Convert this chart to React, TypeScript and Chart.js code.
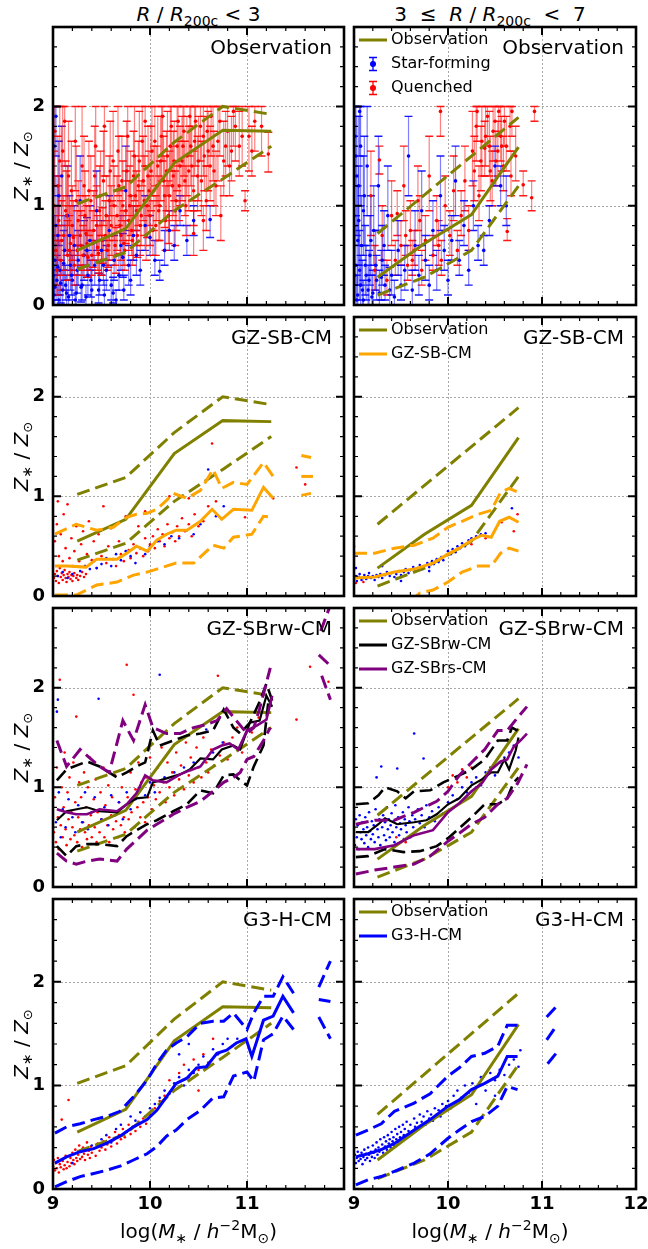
import React, { useEffect, useRef } from 'react';
import { Chart, registerables } from 'chart.js';

Chart.register(...registerables);

type P = [number, number];
type E = [number, number, number, number];

// ---------------- axes ----------------
const X_MIN = 9;
const X_MAX = 12;
const Y_MIN = 0;
const Y_MAX = 2.8;
const xMajorTicks = [9, 10, 11, 12];
const xMinorTicks = [9.2, 9.4, 9.6, 9.8, 10.2, 10.4, 10.6, 10.8, 11.2, 11.4, 11.6, 11.8];
const yMajorTicks = [0, 1, 2];
const yMinorTicks = [0.2, 0.4, 0.6, 0.8, 1.2, 1.4, 1.6, 1.8, 2.2, 2.4, 2.6];
const xGridValues = [10, 11];
const yGridValues = [1, 2];
const xTickLabelsLeft = ['9', '10', '11', ''];
const xTickLabelsRight = ['9', '10', '11', '12'];
const yTickLabels = ['0', '1', '2'];
const panelLabels = ['Observation', 'GZ-SB-CM', 'GZ-SBrw-CM', 'G3-H-CM'];

// ---------------- observation (both columns) ----------------
const obsInMed: P[] = [[9.25, 0.55], [9.75, 0.77], [10.25, 1.43], [10.75, 1.76], [11.25, 1.75]];
const obsInHi: P[] = [[9.25, 1.02], [9.75, 1.19], [10.25, 1.64], [10.75, 2.0], [11.25, 1.92]];
const obsInLo: P[] = [[9.25, 0.36], [9.75, 0.53], [10.25, 0.95], [10.75, 1.27], [11.25, 1.6]];
const obsOutMed: P[] = [[9.25, 0.28], [9.75, 0.62], [10.25, 0.91], [10.75, 1.59]];
const obsOutHi: P[] = [[9.25, 0.72], [9.75, 1.11], [10.25, 1.5], [10.75, 1.89]];
const obsOutLo: P[] = [[9.25, 0.1], [9.75, 0.28], [10.25, 0.55], [10.75, 1.2]];

// observation individual galaxies [x, y, errLow, errHigh]
const obsQuenchedIn: E[] = [
  [9.02, 1.75, 1.2, 2.0], [9.03, 0.55, 0.2, 1.0], [9.05, 1.2, 0.7, 1.7], [9.06, 0.85, 0.45, 1.3], [9.08, 0.45, 0.15, 0.8],
  [9.1, 1.55, 1.0, 2.0], [9.11, 0.7, 0.35, 1.1], [9.13, 0.95, 0.55, 1.45], [9.15, 0.5, 0.25, 0.85], [9.16, 1.3, 0.8, 1.85],
  [9.18, 0.62, 0.3, 1.0], [9.2, 0.8, 0.45, 1.2], [9.22, 0.4, 0.2, 0.7], [9.24, 1.05, 0.6, 1.6], [9.25, 0.55, 0.3, 0.95],
  [9.28, 0.7, 0.4, 1.1], [9.3, 1.4, 0.9, 2.0], [9.31, 0.5, 0.3, 0.8], [9.33, 0.9, 0.5, 1.35], [9.35, 0.62, 0.35, 1.0],
  [9.37, 1.15, 0.7, 1.65], [9.4, 0.5, 0.3, 0.75], [9.42, 0.75, 0.45, 1.15], [9.44, 1.6, 1.1, 2.0], [9.46, 0.58, 0.35, 0.9],
  [9.48, 0.95, 0.55, 1.4], [9.5, 0.45, 0.3, 0.7], [9.52, 1.25, 0.8, 1.75], [9.54, 0.7, 0.4, 1.05], [9.56, 0.55, 0.35, 0.85],
  [9.58, 1.05, 0.65, 1.5], [9.6, 0.8, 0.5, 1.2], [9.62, 1.45, 1.0, 1.95], [9.64, 0.6, 0.4, 0.9], [9.66, 0.9, 0.55, 1.3],
  [9.68, 1.2, 0.8, 1.7], [9.7, 0.7, 0.45, 1.05], [9.72, 1.0, 0.65, 1.45], [9.74, 0.55, 0.35, 0.85], [9.76, 1.35, 0.9, 1.85],
  [9.78, 0.85, 0.55, 1.25], [9.8, 1.1, 0.7, 1.55], [9.82, 0.65, 0.4, 1.0], [9.84, 1.5, 1.05, 2.0], [9.86, 0.95, 0.6, 1.35],
  [9.88, 1.2, 0.8, 1.65], [9.9, 0.8, 0.5, 1.15], [9.92, 1.65, 1.2, 2.0], [9.94, 1.05, 0.7, 1.5], [9.96, 0.7, 0.45, 1.0],
  [9.98, 1.3, 0.9, 1.8], [10.0, 0.9, 0.6, 1.3], [10.02, 1.55, 1.1, 2.0], [10.04, 1.15, 0.75, 1.6], [10.06, 0.8, 0.5, 1.1],
  [10.08, 1.4, 1.0, 1.9], [10.1, 1.0, 0.65, 1.45], [10.12, 1.7, 1.25, 2.0], [10.14, 1.25, 0.85, 1.7], [10.16, 0.85, 0.55, 1.2],
  [10.18, 1.5, 1.1, 1.95], [10.2, 1.1, 0.75, 1.55], [10.22, 1.8, 1.35, 2.0], [10.24, 1.3, 0.9, 1.75], [10.26, 0.95, 0.6, 1.35],
  [10.28, 1.6, 1.15, 2.0], [10.3, 1.2, 0.85, 1.65], [10.33, 1.45, 1.05, 1.9], [10.35, 1.75, 1.3, 2.0], [10.37, 1.0, 0.7, 1.4],
  [10.4, 1.35, 0.95, 1.8], [10.42, 1.6, 1.2, 2.0], [10.45, 1.15, 0.8, 1.55], [10.47, 1.85, 1.4, 2.0], [10.5, 1.45, 1.05, 1.9],
  [10.53, 1.25, 0.9, 1.65], [10.55, 1.7, 1.3, 2.0], [10.58, 1.05, 0.75, 1.4], [10.6, 1.55, 1.15, 1.95], [10.63, 1.9, 1.5, 2.0],
  [10.66, 1.35, 1.0, 1.75], [10.7, 1.65, 1.25, 2.0], [10.73, 0.9, 0.65, 1.2], [10.76, 1.45, 1.1, 1.85], [10.8, 1.75, 1.4, 2.0],
  [10.84, 1.55, 1.25, 1.9], [10.88, 1.8, 1.45, 2.0], [10.92, 1.6, 1.3, 1.95], [10.98, 1.05, 0.95, 1.15], [11.02, 1.7, 1.35, 2.0],
  [11.08, 1.85, 1.55, 2.0], [11.15, 1.8, 1.5, 2.0], [11.22, 1.52, 1.34, 1.74], [10.55, 0.85, 0.55, 1.0], [10.45, 0.72, 0.5, 0.95],
  [9.01, 1.0, 0.5, 1.55], [9.04, 0.35, 0.1, 0.65], [9.07, 1.45, 0.9, 2.0], [9.09, 0.65, 0.3, 1.05], [9.12, 1.85, 1.4, 2.0],
  [9.14, 0.9, 0.5, 1.35], [9.17, 0.55, 0.25, 0.9], [9.19, 1.15, 0.7, 1.65], [9.21, 0.68, 0.35, 1.05], [9.23, 1.65, 1.15, 2.0],
  [9.26, 0.85, 0.5, 1.25], [9.29, 0.6, 0.35, 0.95], [9.32, 1.2, 0.75, 1.7], [9.34, 0.72, 0.4, 1.1], [9.36, 0.48, 0.28, 0.75],
  [9.39, 1.05, 0.65, 1.5], [9.41, 0.62, 0.38, 0.95], [9.43, 1.3, 0.85, 1.8], [9.45, 0.8, 0.5, 1.2], [9.47, 0.52, 0.32, 0.8],
  [9.49, 1.1, 0.7, 1.55], [9.51, 0.65, 0.42, 0.98], [9.53, 1.8, 1.3, 2.0], [9.55, 0.9, 0.55, 1.3], [9.57, 0.6, 0.38, 0.9],
  [9.59, 1.35, 0.9, 1.85], [9.61, 0.7, 0.45, 1.05], [9.63, 1.0, 0.65, 1.4], [9.65, 0.5, 0.32, 0.78], [9.67, 1.55, 1.1, 2.0],
  [9.69, 0.8, 0.52, 1.15], [9.71, 1.25, 0.85, 1.7], [9.73, 0.62, 0.4, 0.95], [9.75, 0.95, 0.62, 1.35], [9.77, 1.7, 1.25, 2.0],
  [9.79, 1.0, 0.65, 1.4], [9.81, 0.75, 0.5, 1.1], [9.83, 1.3, 0.9, 1.75], [9.85, 1.1, 0.75, 1.5], [9.87, 0.7, 0.48, 1.0],
  [9.89, 1.45, 1.0, 1.95], [9.91, 0.9, 0.6, 1.25], [9.93, 1.25, 0.85, 1.7], [9.95, 1.85, 1.4, 2.0], [9.97, 1.0, 0.68, 1.4],
  [9.99, 1.15, 0.8, 1.55], [10.01, 1.35, 0.95, 1.8], [10.03, 0.75, 0.5, 1.05], [10.05, 1.65, 1.2, 2.0], [10.07, 1.2, 0.85, 1.6],
  [10.09, 0.95, 0.65, 1.3], [10.11, 1.45, 1.05, 1.9], [10.13, 1.9, 1.45, 2.0], [10.15, 1.1, 0.78, 1.5], [10.17, 1.35, 0.95, 1.75],
  [10.19, 0.9, 0.62, 1.25], [10.21, 1.6, 1.2, 2.0], [10.23, 1.2, 0.85, 1.6], [10.25, 1.45, 1.05, 1.85], [10.27, 1.05, 0.75, 1.45],
  [10.29, 1.85, 1.4, 2.0], [10.31, 1.4, 1.0, 1.8], [10.34, 1.6, 1.2, 2.0], [10.36, 1.25, 0.9, 1.65], [10.38, 1.5, 1.1, 1.9],
  [10.41, 1.9, 1.5, 2.0], [10.43, 1.4, 1.05, 1.8], [10.46, 1.65, 1.3, 2.0], [10.49, 1.3, 0.95, 1.7], [10.52, 1.8, 1.45, 2.0],
  [10.56, 1.5, 1.15, 1.9], [10.59, 1.75, 1.4, 2.0], [10.62, 1.4, 1.05, 1.8], [10.65, 1.6, 1.25, 2.0], [10.68, 1.2, 0.9, 1.55],
  [10.72, 1.85, 1.5, 2.0], [10.78, 1.6, 1.3, 1.95], [10.82, 1.4, 1.1, 1.75], [10.86, 1.95, 1.6, 2.0], [10.95, 1.7, 1.4, 2.0],
  [11.05, 1.55, 1.3, 1.8],
];
const obsStarFormingIn: E[] = [
  [9.01, 0.1, 0.0, 0.3], [9.02, 0.45, 0.1, 0.9], [9.03, 1.9, 1.5, 2.0], [9.04, 0.25, 0.05, 0.5], [9.05, 0.7, 0.3, 1.2],
  [9.06, 0.05, 0.0, 0.2], [9.07, 0.35, 0.1, 0.65], [9.09, 1.3, 0.8, 1.8], [9.1, 0.15, 0.0, 0.35], [9.12, 0.55, 0.25, 0.9],
  [9.13, 0.2, 0.05, 0.4], [9.15, 0.9, 0.5, 1.4], [9.16, 0.08, 0.0, 0.25], [9.18, 0.4, 0.15, 0.7], [9.2, 0.25, 0.05, 0.5],
  [9.22, 0.6, 0.3, 1.0], [9.24, 0.12, 0.0, 0.3], [9.26, 0.45, 0.2, 0.75], [9.28, 1.05, 0.6, 1.5], [9.3, 0.2, 0.05, 0.4],
  [9.32, 0.5, 0.25, 0.85], [9.34, 0.08, 0.0, 0.2], [9.36, 0.3, 0.1, 0.55], [9.38, 0.65, 0.35, 1.0], [9.4, 0.15, 0.0, 0.35],
  [9.43, 0.4, 0.2, 0.65], [9.45, 0.95, 0.55, 1.35], [9.48, 0.25, 0.1, 0.45], [9.5, 0.55, 0.3, 0.85], [9.53, 0.1, 0.0, 0.25],
  [9.55, 0.35, 0.15, 0.6], [9.58, 0.75, 0.45, 1.1], [9.6, 0.2, 0.05, 0.4], [9.63, 0.45, 0.25, 0.7], [9.65, 0.05, 0.0, 0.15],
  [9.68, 0.3, 0.15, 0.5], [9.7, 0.6, 0.35, 0.9], [9.73, 0.15, 0.05, 0.3], [9.75, 1.15, 0.75, 1.6], [9.78, 0.4, 0.2, 0.6],
  [9.8, 0.25, 0.1, 0.45], [9.83, 0.7, 0.45, 1.0], [9.86, 0.5, 0.3, 0.75], [9.9, 0.35, 0.2, 0.55], [9.95, 0.8, 0.55, 1.1],
  [10.0, 0.68, 0.5, 0.9], [10.05, 0.45, 0.3, 0.65], [10.1, 0.34, 0.25, 0.45], [10.15, 0.55, 0.4, 0.75], [10.2, 0.75, 0.55, 0.95],
  [10.25, 0.6, 0.45, 0.8], [10.31, 0.95, 0.8, 1.1], [10.38, 0.65, 0.5, 0.8], [10.45, 0.85, 0.7, 1.0], [10.62, 0.86, 0.68, 1.0],
  [9.0, 0.3, 0.05, 0.6], [9.01, 1.6, 1.1, 2.0], [9.02, 0.18, 0.0, 0.4], [9.03, 0.8, 0.35, 1.3], [9.05, 0.38, 0.1, 0.7],
  [9.06, 1.1, 0.6, 1.65], [9.08, 0.22, 0.02, 0.45], [9.11, 0.42, 0.15, 0.75], [9.14, 0.12, 0.0, 0.3], [9.17, 0.7, 0.35, 1.1],
  [9.19, 0.3, 0.1, 0.55], [9.23, 0.05, 0.0, 0.2], [9.25, 0.35, 0.12, 0.6], [9.29, 0.18, 0.03, 0.38], [9.35, 0.55, 0.28, 0.88],
  [9.39, 0.25, 0.08, 0.45], [9.47, 0.15, 0.02, 0.32], [9.52, 0.4, 0.2, 0.65], [9.62, 0.12, 0.02, 0.28], [9.72, 0.48, 0.28, 0.72],
];
const obsQuenchedOut: E[] = [
  [9.18, 1.1, 0.7, 1.55], [9.22, 0.35, 0.15, 0.6], [9.27, 1.46, 1.32, 1.6], [9.3, 0.7, 0.45, 1.0], [9.35, 0.25, 0.1, 0.45],
  [9.4, 0.9, 0.6, 1.25], [9.44, 0.45, 0.3, 0.65], [9.46, 0.92, 0.7, 1.15], [9.5, 0.6, 0.4, 0.85], [9.53, 1.2, 0.85, 1.6],
  [9.57, 0.4, 0.25, 0.6], [9.6, 0.75, 0.5, 1.05], [9.64, 0.55, 0.4, 0.75], [9.68, 1.05, 0.75, 1.4], [9.72, 0.35, 0.2, 0.55],
  [9.76, 0.65, 0.45, 0.9], [9.8, 1.3, 0.95, 1.7], [9.84, 0.5, 0.35, 0.7], [9.88, 0.85, 0.6, 1.1], [9.93, 0.45, 0.3, 0.65],
  [9.97, 1.0, 0.75, 1.3], [10.02, 0.7, 0.5, 0.95], [10.06, 1.15, 0.85, 1.5], [10.1, 0.55, 0.4, 0.75], [10.14, 0.9, 0.7, 1.15],
  [10.18, 1.25, 0.95, 1.6], [10.22, 0.75, 0.55, 1.0], [10.26, 1.55, 1.2, 1.95], [10.3, 1.8, 1.45, 2.0], [10.33, 1.1, 0.85, 1.4],
  [10.36, 1.65, 1.3, 2.0], [10.39, 1.58, 1.3, 1.85], [10.42, 1.9, 1.6, 2.0], [10.45, 1.35, 1.05, 1.7], [10.48, 1.75, 1.45, 2.0],
  [10.51, 1.45, 1.2, 1.75], [10.54, 1.95, 1.7, 2.0], [10.57, 1.6, 1.35, 1.9], [10.6, 1.85, 1.6, 2.0], [10.63, 0.74, 0.65, 0.87],
  [10.67, 1.3, 1.1, 1.55], [10.72, 1.5, 1.25, 1.8], [10.8, 1.21, 1.1, 1.35], [10.89, 1.08, 0.95, 1.25], [10.92, 1.95, 1.85, 2.0],
  [10.68, 1.95, 1.7, 2.0], [9.92, 1.95, 1.7, 2.0],
  [10.28, 1.35, 1.05, 1.7], [10.31, 1.95, 1.65, 2.0], [10.35, 1.45, 1.15, 1.8], [10.4, 1.7, 1.4, 2.0], [10.44, 1.6, 1.3, 1.95],
  [10.47, 1.25, 1.0, 1.55], [10.5, 1.85, 1.55, 2.0], [10.53, 1.55, 1.3, 1.85], [10.56, 1.7, 1.45, 2.0], [10.59, 1.4, 1.15, 1.7],
  [10.62, 1.6, 1.35, 1.9], [10.66, 1.8, 1.55, 2.0], [9.55, 0.7, 0.5, 0.95], [9.62, 0.45, 0.3, 0.65], [9.7, 0.85, 0.6, 1.1],
  [9.9, 0.6, 0.4, 0.85],
];
const obsStarFormingOut: E[] = [
  [9.01, 1.7, 1.2, 2.0], [9.02, 0.4, 0.05, 0.9], [9.03, 1.3, 0.7, 1.9], [9.04, 0.1, 0.0, 0.4], [9.05, 0.85, 0.4, 1.4],
  [9.06, 1.95, 1.5, 2.0], [9.07, 0.2, 0.0, 0.5], [9.08, 0.6, 0.2, 1.1], [9.1, 0.05, 0.0, 0.25], [9.11, 1.1, 0.6, 1.7],
  [9.13, 0.3, 0.05, 0.6], [9.15, 0.15, 0.0, 0.4], [9.17, 0.5, 0.2, 0.9], [9.19, 0.08, 0.0, 0.3], [9.21, 0.75, 0.4, 1.2],
  [9.24, 0.25, 0.05, 0.5], [9.27, 0.12, 0.0, 0.35], [9.3, 0.45, 0.2, 0.8], [9.33, 0.2, 0.05, 0.4], [9.36, 0.9, 0.55, 1.4],
  [9.4, 0.3, 0.1, 0.55], [9.43, 0.08, 0.0, 0.25], [9.47, 0.55, 0.3, 0.85], [9.5, 0.2, 0.05, 0.4], [9.54, 0.35, 0.15, 0.6],
  [9.58, 1.5, 1.1, 1.9], [9.62, 0.15, 0.0, 0.35], [9.65, 0.6, 0.35, 0.95], [9.69, 0.3, 0.1, 0.5], [9.72, 0.95, 0.6, 1.35],
  [9.76, 0.45, 0.25, 0.7], [9.8, 0.2, 0.05, 0.4], [9.84, 0.75, 0.5, 1.05], [9.88, 0.35, 0.15, 0.55], [9.92, 1.1, 0.75, 1.5],
  [9.96, 0.55, 0.35, 0.8], [10.0, 0.25, 0.1, 0.45], [10.04, 0.65, 0.45, 0.9], [10.08, 1.25, 0.9, 1.6], [10.12, 0.45, 0.3, 0.65],
  [10.17, 0.8, 0.6, 1.05], [10.22, 0.35, 0.2, 0.55], [10.27, 1.0, 0.75, 1.25], [10.32, 0.6, 0.45, 0.8], [10.38, 0.55, 0.4, 0.7],
  [10.44, 0.85, 0.7, 1.0], [10.5, 1.4, 1.2, 1.6], [10.56, 1.2, 1.0, 1.4], [10.62, 1.0, 0.8, 1.3],
  [9.0, 0.9, 0.2, 1.7], [9.01, 0.3, 0.0, 0.8], [9.02, 1.5, 0.9, 2.0], [9.03, 0.05, 0.0, 0.3], [9.04, 0.65, 0.2, 1.2],
  [9.05, 1.2, 0.6, 1.9], [9.06, 0.35, 0.05, 0.75], [9.07, 1.6, 1.0, 2.0], [9.09, 0.15, 0.0, 0.45], [9.1, 0.95, 0.5, 1.5],
  [9.12, 0.4, 0.1, 0.8], [9.14, 1.4, 0.9, 2.0], [9.16, 0.25, 0.0, 0.55], [9.18, 0.65, 0.3, 1.1], [9.2, 0.12, 0.0, 0.35],
  [9.23, 0.4, 0.15, 0.75], [9.26, 1.2, 0.75, 1.7], [9.29, 0.28, 0.05, 0.55], [9.32, 0.6, 0.3, 0.95], [9.38, 0.15, 0.0, 0.38],
];

// ---------------- GZ-SB-CM ----------------
const gzsbInMed: P[] = [[9.02, 0.3], [9.14, 0.3], [9.34, 0.29], [9.45, 0.37], [9.66, 0.37], [9.76, 0.43], [9.86, 0.5], [9.97, 0.45], [10.07, 0.56], [10.17, 0.62], [10.27, 0.66], [10.38, 0.66], [10.52, 0.75], [10.64, 0.87], [10.74, 0.77], [10.86, 0.87], [11.05, 0.86], [11.17, 1.09], [11.27, 0.98]];
const gzsbInHi: P[] = [[9.02, 0.62], [9.24, 0.72], [9.45, 0.66], [9.62, 0.69], [9.76, 0.79], [9.86, 0.82], [9.97, 0.83], [10.07, 0.87], [10.17, 0.96], [10.24, 1.03], [10.38, 0.98], [10.52, 1.06], [10.65, 1.27], [10.74, 1.08], [10.86, 1.14], [11.0, 1.12], [11.17, 1.34], [11.27, 1.2]];
const gzsbInLo: P[] = [[9.02, 0.01], [9.24, 0.01], [9.45, 0.11], [9.66, 0.14], [9.83, 0.21], [9.97, 0.24], [10.07, 0.27], [10.27, 0.33], [10.45, 0.33], [10.65, 0.51], [10.76, 0.48], [10.86, 0.59], [11.05, 0.62], [11.17, 0.8], [11.27, 0.79]];
const gzsbInTailHi: P[] = [[11.56, 1.41], [11.66, 1.39]];
const gzsbInTailMed: P[] = [[11.56, 1.2], [11.68, 1.2]];
const gzsbInTailLo: P[] = [[11.56, 1.01], [11.66, 1.03]];
const gzsbOutMed: P[] = [[9.0, 0.18], [9.22, 0.19], [9.43, 0.24], [9.64, 0.27], [9.84, 0.33], [10.0, 0.42], [10.12, 0.48], [10.25, 0.56], [10.36, 0.61], [10.46, 0.59], [10.55, 0.75], [10.65, 0.79], [10.75, 0.74]];
const gzsbOutHi: P[] = [[9.0, 0.43], [9.22, 0.43], [9.43, 0.48], [9.64, 0.51], [9.84, 0.58], [10.0, 0.69], [10.15, 0.75], [10.32, 0.82], [10.46, 0.86], [10.56, 1.04], [10.65, 1.08], [10.75, 1.04]];
const gzsbOutLo: P[] = [[9.6, -0.05], [9.7, 0.03], [9.84, 0.06], [10.0, 0.14], [10.15, 0.24], [10.32, 0.3], [10.46, 0.3], [10.56, 0.43], [10.65, 0.48], [10.75, 0.45]];
const gzsbInRed: P[] = [
  [9.01, 0.18], [9.02, 0.22], [9.03, 0.15], [9.04, 0.25], [9.05, 0.2], [9.06, 0.13], [9.07, 0.28], [9.08, 0.19], [9.09, 0.23], [9.1, 0.16],
  [9.11, 0.21], [9.12, 0.26], [9.13, 0.18], [9.14, 0.14], [9.15, 0.22], [9.16, 0.19], [9.17, 0.24], [9.18, 0.17], [9.19, 0.21], [9.2, 0.15],
  [9.21, 0.2], [9.22, 0.23], [9.24, 0.18], [9.25, 0.21], [9.26, 0.16], [9.28, 0.2], [9.3, 0.24], [9.32, 0.19], [9.34, 0.22],
  [9.02, 0.55], [9.04, 0.72], [9.05, 0.95], [9.06, 0.4], [9.08, 0.62], [9.1, 0.35], [9.11, 0.82], [9.13, 0.48], [9.15, 0.92], [9.17, 0.38],
  [9.19, 0.58], [9.2, 0.3], [9.22, 0.45], [9.24, 0.7], [9.27, 0.35], [9.29, 0.52], [9.31, 0.65], [9.33, 0.3], [9.35, 0.42], [9.37, 0.75],
  [9.4, 0.36], [9.42, 0.55], [9.45, 0.28], [9.47, 0.62], [9.5, 0.4], [9.52, 0.9], [9.55, 0.33], [9.57, 0.5], [9.6, 0.68], [9.62, 0.37],
  [9.65, 0.3], [9.68, 0.55], [9.7, 0.42], [9.73, 0.35], [9.75, 0.8], [9.78, 0.46], [9.8, 0.38], [9.83, 0.52], [9.86, 0.43], [9.88, 0.7],
  [9.9, 0.48], [9.93, 0.4], [9.95, 0.58], [9.98, 0.45], [10.0, 0.52], [10.03, 0.6], [10.05, 0.48], [10.08, 0.67], [10.1, 0.55], [10.13, 0.62],
  [10.15, 0.5], [10.18, 0.72], [10.2, 0.58], [10.23, 0.64], [10.26, 0.55], [10.28, 0.7], [10.3, 0.6], [10.33, 0.78], [10.36, 0.65], [10.4, 0.72],
  [10.43, 0.6], [10.46, 0.82], [10.5, 0.7], [10.55, 0.75], [10.6, 0.9], [10.64, 1.53], [10.68, 0.95], [10.98, 0.79], [11.27, 0.98], [11.51, 1.29],
  [11.6, 1.12], [10.4, 0.98], [9.95, 0.85], [10.2, 1.0],
];
const gzsbInBlue: P[] = [
  [9.05, 0.2], [9.1, 0.24], [9.15, 0.18], [9.2, 0.22], [9.28, 0.25], [9.33, 0.3], [9.38, 0.27], [9.42, 0.35], [9.45, 0.28], [9.5, 0.32],
  [9.55, 0.38], [9.6, 0.3], [9.65, 0.42], [9.7, 0.36], [9.75, 0.45], [9.8, 0.4], [9.85, 0.33], [9.9, 0.48], [9.95, 0.42], [10.0, 0.5],
  [10.08, 0.55], [10.15, 0.52], [10.22, 0.6], [10.3, 0.58], [10.38, 0.66], [10.45, 0.62], [10.52, 0.72], [10.6, 1.27], [10.76, 0.9], [10.68, 0.8],
];
const gzsbOutBlue: P[] = [
  [9.0, 0.17], [9.02, 0.2], [9.03, 0.15], [9.05, 0.19], [9.06, 0.22], [9.08, 0.16], [9.1, 0.18], [9.11, 0.21], [9.13, 0.17], [9.15, 0.2],
  [9.16, 0.23], [9.18, 0.18], [9.2, 0.2], [9.22, 0.16], [9.24, 0.21], [9.26, 0.19], [9.28, 0.22], [9.3, 0.18], [9.33, 0.21], [9.35, 0.24],
  [9.38, 0.2], [9.4, 0.23], [9.43, 0.19], [9.45, 0.22], [9.48, 0.25], [9.5, 0.21], [9.53, 0.24], [9.55, 0.27], [9.58, 0.23], [9.6, 0.26],
  [9.63, 0.29], [9.65, 0.25], [9.68, 0.28], [9.7, 0.31], [9.73, 0.27], [9.75, 0.3], [9.78, 0.33], [9.8, 0.29], [9.83, 0.35], [9.85, 0.32],
  [9.88, 0.37], [9.9, 0.34], [9.93, 0.39], [9.95, 0.36], [9.98, 0.41], [10.0, 0.45], [10.03, 0.42], [10.05, 0.47], [10.08, 0.44], [10.1, 0.5],
  [10.13, 0.48], [10.15, 0.53], [10.18, 0.5], [10.22, 0.56], [10.25, 0.58], [10.3, 0.6], [10.35, 0.62], [10.4, 0.63], [9.0, 0.5], [9.02, 0.28],
  [9.3, 0.3], [9.5, 0.15], [9.8, 0.25], [10.68, 0.88],
];
const gzsbOutRed: P[] = [[10.25, 0.52], [10.4, 0.58], [10.57, 0.74], [10.7, 0.65], [10.74, 0.82], [9.02, 0.13], [9.1, 0.14]];

// ---------------- GZ-SBrw-CM / GZ-SBrs-CM ----------------
const rwInMed: P[] = [[9.04, 0.67], [9.14, 0.76], [9.35, 0.8], [9.48, 0.76], [9.66, 0.75], [9.76, 0.83], [9.86, 0.89], [9.97, 0.9], [10.03, 1.05], [10.17, 1.09], [10.31, 1.13], [10.41, 1.18], [10.52, 1.29], [10.65, 1.28], [10.74, 1.38], [10.86, 1.42], [10.93, 1.38], [11.03, 1.65], [11.13, 1.67], [11.2, 1.92], [11.26, 1.81]];
const rwInHi: P[] = [[9.04, 1.07], [9.14, 1.18], [9.35, 1.26], [9.48, 1.21], [9.66, 1.1], [9.76, 1.15], [9.86, 1.21], [9.95, 1.25], [10.03, 1.57], [10.1, 1.42], [10.24, 1.47], [10.38, 1.52], [10.52, 1.54], [10.65, 1.57], [10.76, 1.78], [10.86, 1.6], [10.93, 1.54], [11.03, 1.65], [11.13, 1.86], [11.2, 2.04], [11.26, 1.87]];
const rwInLo: P[] = [[9.04, 0.41], [9.14, 0.31], [9.24, 0.41], [9.35, 0.43], [9.48, 0.43], [9.66, 0.41], [9.76, 0.51], [9.86, 0.57], [9.97, 0.63], [10.07, 0.67], [10.24, 0.76], [10.38, 0.83], [10.52, 0.97], [10.65, 0.94], [10.76, 1.12], [10.86, 1.13], [10.93, 1.07], [11.0, 1.02], [11.07, 1.21], [11.17, 1.42], [11.22, 1.86]];
const rsInMed: P[] = [[9.04, 0.78], [9.14, 0.75], [9.24, 0.73], [9.35, 0.73], [9.48, 0.78], [9.66, 0.76], [9.76, 0.83], [9.86, 0.94], [9.95, 1.12], [10.03, 1.07], [10.17, 1.05], [10.31, 1.13], [10.41, 1.17], [10.52, 1.21], [10.65, 1.38], [10.74, 1.42], [10.82, 1.44], [10.91, 1.38], [11.0, 1.57], [11.1, 1.62], [11.2, 1.68], [11.26, 1.92]];
const rsInHi: P[] = [[9.04, 1.47], [9.14, 1.21], [9.28, 1.38], [9.48, 1.21], [9.58, 1.15], [9.72, 1.67], [9.83, 1.47], [9.95, 1.83], [10.03, 1.6], [10.17, 1.54], [10.31, 1.54], [10.45, 1.6], [10.58, 1.63], [10.69, 1.67], [10.79, 1.79], [10.89, 1.67], [11.0, 1.54], [11.07, 1.6], [11.13, 1.79], [11.24, 2.2]];
const rsInLo: P[] = [[9.04, 0.34], [9.14, 0.26], [9.24, 0.23], [9.35, 0.26], [9.48, 0.28], [9.66, 0.26], [9.76, 0.38], [9.86, 0.47], [9.97, 0.57], [10.07, 0.63], [10.24, 0.73], [10.38, 0.8], [10.52, 0.86], [10.65, 0.96], [10.76, 1.05], [10.86, 1.1], [10.93, 1.15], [11.0, 1.28], [11.07, 1.31], [11.17, 1.47], [11.24, 1.6]];
const rsInTailHi: P[] = [[11.76, 2.57], [11.86, 2.83]];
const rsInTailMed: P[] = [[11.74, 2.33], [11.86, 2.22]];
const rsInTailLo: P[] = [[11.77, 2.12], [11.86, 1.88]];
const rwOutMed: P[] = [[9.02, 0.55], [9.15, 0.55], [9.26, 0.63], [9.33, 0.69], [9.46, 0.63], [9.64, 0.65], [9.77, 0.67], [9.88, 0.73], [10.0, 0.83], [10.12, 0.89], [10.25, 1.02], [10.36, 1.08], [10.46, 1.15], [10.53, 1.15], [10.6, 1.28], [10.65, 1.18], [10.72, 1.37], [10.75, 1.5]];
const rwOutHi: P[] = [[9.02, 0.83], [9.15, 0.84], [9.26, 0.92], [9.33, 1.0], [9.46, 0.96], [9.55, 0.89], [9.64, 0.96], [9.81, 0.97], [9.95, 1.05], [10.12, 1.12], [10.25, 1.18], [10.39, 1.28], [10.53, 1.47], [10.63, 1.47], [10.68, 1.6], [10.74, 1.57]];
const rwOutLo: P[] = [[9.02, 0.3], [9.15, 0.31], [9.33, 0.38], [9.53, 0.35], [9.7, 0.36], [9.88, 0.41], [10.0, 0.49], [10.12, 0.59], [10.25, 0.7], [10.39, 0.83], [10.53, 0.83], [10.63, 0.89], [10.7, 1.05], [10.75, 1.1]];
const rsOutMed: P[] = [[9.02, 0.38], [9.22, 0.38], [9.43, 0.42], [9.64, 0.52], [9.84, 0.57], [10.0, 0.75], [10.12, 0.84], [10.25, 0.96], [10.36, 1.04], [10.46, 1.18], [10.56, 1.26], [10.63, 1.28], [10.7, 1.41], [10.77, 1.47], [10.84, 1.54]];
const rsOutHi: P[] = [[9.02, 0.63], [9.22, 0.67], [9.43, 0.67], [9.64, 0.75], [9.77, 0.81], [9.88, 0.86], [10.0, 0.96], [10.12, 1.12], [10.25, 1.25], [10.39, 1.38], [10.53, 1.57], [10.63, 1.57], [10.74, 1.7], [10.84, 1.81]];
const rsOutLo: P[] = [[9.02, 0.13], [9.22, 0.17], [9.43, 0.2], [9.64, 0.23], [9.81, 0.31], [10.0, 0.46], [10.12, 0.54], [10.25, 0.63], [10.39, 0.7], [10.53, 0.83], [10.63, 0.89], [10.74, 1.04], [10.84, 1.23]];
const rwInRed: P[] = [
  [9.01, 0.55], [9.02, 0.9], [9.03, 0.45], [9.04, 1.2], [9.05, 0.7], [9.06, 0.38], [9.07, 2.08], [9.08, 0.62], [9.09, 1.0], [9.1, 0.5],
  [9.11, 0.8], [9.12, 1.35], [9.13, 0.58], [9.14, 0.42], [9.15, 0.95], [9.16, 0.68], [9.17, 1.1], [9.18, 0.48], [9.19, 0.75], [9.2, 0.6],
  [9.21, 1.25], [9.22, 0.52], [9.23, 0.85], [9.24, 1.71], [9.25, 0.45], [9.26, 0.7], [9.27, 1.05], [9.28, 0.58], [9.29, 0.9], [9.3, 0.4],
  [9.31, 0.65], [9.32, 1.15], [9.33, 0.55], [9.34, 0.8], [9.35, 0.48], [9.36, 1.0], [9.37, 0.62], [9.38, 1.3], [9.39, 0.72], [9.4, 0.5],
  [9.42, 0.88], [9.43, 0.6], [9.44, 1.08], [9.45, 0.45], [9.46, 0.75], [9.48, 0.55], [9.49, 0.95], [9.5, 0.68], [9.52, 1.2], [9.53, 0.5],
  [9.54, 0.82], [9.56, 0.62], [9.57, 1.02], [9.58, 0.45], [9.6, 0.72], [9.61, 0.9], [9.62, 0.58], [9.64, 1.12], [9.65, 0.66], [9.67, 0.5],
  [9.68, 0.85], [9.7, 0.62], [9.71, 1.0], [9.73, 0.7], [9.74, 0.55], [9.76, 2.23], [9.77, 0.9], [9.78, 0.68], [9.8, 1.15], [9.81, 0.75],
  [9.83, 1.93], [9.84, 0.6], [9.85, 0.98], [9.87, 0.8], [9.88, 1.25], [9.9, 0.7], [9.91, 1.05], [9.93, 0.85], [9.95, 0.65], [9.96, 1.1],
  [9.98, 0.9], [10.0, 1.3], [10.02, 0.78], [10.04, 1.02], [10.06, 0.88], [10.08, 1.2], [10.1, 0.95], [10.12, 1.4], [10.14, 1.05], [10.16, 0.85],
  [10.18, 1.25], [10.2, 1.0], [10.23, 1.15], [10.25, 0.92], [10.27, 1.35], [10.3, 1.08], [10.32, 1.22], [10.35, 0.98], [10.37, 1.45], [10.4, 1.12],
  [10.42, 1.3], [10.45, 1.05], [10.48, 1.4], [10.5, 1.2], [10.53, 1.1], [10.55, 1.5], [10.58, 1.25], [10.6, 1.15], [10.63, 1.38], [10.66, 1.22],
  [10.7, 2.12], [10.72, 1.32], [10.76, 1.45], [10.8, 1.28], [10.85, 1.5], [10.9, 1.6], [10.95, 1.35], [11.05, 1.55], [11.12, 1.7], [11.2, 1.75],
  [11.51, 1.68], [11.65, 2.21], [11.84, 2.06],
];
const rwInBlue: P[] = [
  [9.04, 1.76], [9.05, 1.88], [9.03, 0.65], [9.06, 0.95], [9.08, 0.5], [9.1, 0.78], [9.13, 0.6], [9.16, 0.88], [9.2, 0.7], [9.23, 0.55],
  [9.26, 0.82], [9.3, 0.65], [9.33, 0.95], [9.36, 0.58], [9.4, 0.75], [9.43, 0.9], [9.47, 1.89], [9.5, 0.68], [9.53, 0.8], [9.57, 0.62],
  [9.6, 0.92], [9.64, 0.72], [9.68, 0.85], [9.72, 0.68], [9.76, 0.95], [9.8, 0.78], [9.85, 0.88], [9.9, 1.0], [9.95, 0.92], [10.0, 1.05],
  [10.05, 0.95], [10.1, 2.13], [10.15, 1.1], [10.25, 1.15], [10.35, 1.2], [10.45, 1.25], [10.58, 1.58], [10.65, 1.35], [10.75, 1.45],
];
const rwOutBlue: P[] = [
  [9.0, 0.55], [9.01, 0.42], [9.02, 0.68], [9.03, 0.5], [9.04, 0.62], [9.05, 0.38], [9.06, 0.72], [9.07, 0.55], [9.08, 0.48], [9.09, 0.65],
  [9.1, 0.58], [9.11, 0.44], [9.12, 0.7], [9.13, 0.52], [9.14, 0.6], [9.15, 0.4], [9.16, 0.75], [9.17, 0.56], [9.18, 0.48], [9.19, 0.66],
  [9.2, 0.53], [9.21, 0.62], [9.22, 0.45], [9.23, 0.78], [9.24, 1.1], [9.25, 0.58], [9.26, 0.5], [9.27, 0.68], [9.28, 0.42], [9.29, 1.21],
  [9.3, 0.6], [9.31, 0.72], [9.32, 0.52], [9.33, 0.65], [9.34, 0.47], [9.35, 0.8], [9.36, 0.58], [9.37, 0.68], [9.38, 0.5], [9.39, 0.62],
  [9.4, 0.74], [9.41, 0.55], [9.42, 0.66], [9.43, 0.45], [9.44, 0.82], [9.45, 0.6], [9.46, 1.19], [9.47, 0.7], [9.48, 0.52], [9.49, 0.64],
  [9.5, 0.58], [9.52, 0.75], [9.53, 0.48], [9.54, 0.68], [9.55, 0.62], [9.56, 0.55], [9.58, 0.8], [9.59, 0.66], [9.6, 0.5], [9.62, 0.72],
  [9.63, 0.6], [9.64, 1.54], [9.65, 0.68], [9.66, 0.56], [9.68, 0.78], [9.7, 0.64], [9.72, 0.72], [9.74, 1.29], [9.75, 0.6], [9.77, 0.82],
  [9.8, 0.7], [9.83, 0.76], [9.86, 0.66], [9.9, 0.8], [9.95, 0.74], [10.0, 0.85], [10.05, 0.92], [10.1, 0.88], [10.15, 1.0], [10.2, 0.95],
  [10.25, 1.05], [10.3, 1.1], [10.35, 1.02], [10.4, 1.15], [10.45, 1.2], [10.5, 1.12], [10.55, 1.25], [10.6, 1.3], [10.65, 1.35], [10.7, 1.42],
  [10.75, 1.3],
];
const rwOutRed: P[] = [[9.45, 0.5], [9.55, 0.45], [10.0, 1.0], [10.05, 1.12], [10.1, 1.05], [10.15, 1.18], [10.2, 1.1], [10.25, 1.2], [10.3, 1.0], [10.38, 1.08], [10.72, 1.4]];

// ---------------- G3-H-CM ----------------
const g3InMed: P[] = [[9.02, 0.25], [9.14, 0.31], [9.28, 0.36], [9.42, 0.39], [9.55, 0.44], [9.69, 0.51], [9.83, 0.6], [9.97, 0.67], [10.07, 0.76], [10.17, 0.89], [10.27, 1.02], [10.38, 1.07], [10.48, 1.17], [10.58, 1.18], [10.69, 1.31], [10.79, 1.34], [10.89, 1.41], [10.99, 1.45], [11.05, 1.28], [11.17, 1.63], [11.27, 1.67], [11.37, 1.86], [11.48, 1.7]];
const g3InHi: P[] = [[9.02, 0.54], [9.14, 0.6], [9.28, 0.63], [9.42, 0.67], [9.55, 0.7], [9.69, 0.75], [9.83, 0.89], [9.97, 1.05], [10.07, 1.21], [10.17, 1.34], [10.27, 1.41], [10.38, 1.47], [10.52, 1.6], [10.65, 1.62], [10.76, 1.62], [10.86, 1.7], [11.0, 1.54], [11.07, 1.7], [11.17, 1.86], [11.27, 1.86], [11.37, 2.05], [11.48, 1.89]];
const g3InLo: P[] = [[9.02, 0.02], [9.14, 0.07], [9.28, 0.12], [9.42, 0.15], [9.55, 0.18], [9.69, 0.22], [9.83, 0.28], [9.97, 0.34], [10.07, 0.41], [10.17, 0.51], [10.27, 0.57], [10.38, 0.67], [10.52, 0.76], [10.65, 0.88], [10.76, 0.89], [10.86, 1.09], [11.0, 1.13], [11.07, 1.04], [11.17, 1.44], [11.27, 1.5], [11.37, 1.67], [11.48, 1.54]];
const g3InTailHi: P[] = [[11.74, 1.95], [11.86, 2.2]];
const g3InTailMed: P[] = [[11.74, 1.83], [11.86, 1.81]];
const g3InTailLo: P[] = [[11.74, 1.66], [11.86, 1.45]];
const g3OutMed: P[] = [[9.02, 0.31], [9.15, 0.34], [9.29, 0.38], [9.43, 0.44], [9.64, 0.57], [9.81, 0.67], [10.0, 0.8], [10.12, 0.86], [10.25, 0.96], [10.39, 1.02], [10.53, 1.09], [10.63, 1.28], [10.74, 1.28]];
const g3OutHi: P[] = [[9.02, 0.52], [9.15, 0.57], [9.29, 0.63], [9.43, 0.75], [9.64, 0.83], [9.81, 0.92], [10.0, 1.09], [10.12, 1.17], [10.25, 1.28], [10.39, 1.31], [10.53, 1.38], [10.63, 1.58], [10.74, 1.58]];
const g3OutLo: P[] = [[9.02, 0.04], [9.15, 0.09], [9.29, 0.12], [9.43, 0.17], [9.64, 0.25], [9.81, 0.34], [10.0, 0.49], [10.12, 0.57], [10.25, 0.65], [10.39, 0.7], [10.53, 0.8], [10.63, 0.99], [10.74, 0.96]];
const g3OutTailHi: P[] = [[11.05, 1.66], [11.15, 1.76]];
const g3OutTailMed: P[] = [[11.05, 1.44], [11.15, 1.57]];
const g3OutTailLo: P[] = [[11.06, 1.21], [11.15, 1.31]];
const g3InRed: P[] = [
  [9.0, 0.22], [9.01, 0.28], [9.02, 0.18], [9.03, 0.25], [9.04, 0.2], [9.05, 0.3], [9.06, 0.16], [9.07, 0.24], [9.08, 0.21], [9.09, 0.67],
  [9.1, 0.27], [9.11, 0.19], [9.12, 0.23], [9.13, 0.32], [9.14, 0.2], [9.15, 0.26], [9.16, 0.86], [9.17, 0.22], [9.18, 0.3], [9.19, 0.25],
  [9.2, 0.35], [9.21, 0.28], [9.22, 0.24], [9.23, 0.38], [9.24, 0.3], [9.25, 0.27], [9.26, 0.33], [9.27, 0.42], [9.28, 0.29], [9.29, 0.36],
  [9.3, 0.31], [9.31, 0.4], [9.32, 0.34], [9.33, 0.28], [9.34, 0.38], [9.35, 0.45], [9.36, 0.33], [9.37, 0.37], [9.38, 0.3], [9.39, 0.41],
  [9.4, 0.35], [9.42, 0.39], [9.44, 0.32], [9.46, 0.44], [9.48, 0.37], [9.5, 0.4], [9.52, 0.46], [9.54, 0.38], [9.56, 0.43], [9.58, 0.5],
  [9.6, 0.41], [9.62, 0.47], [9.64, 0.55], [9.66, 0.44], [9.68, 0.52], [9.7, 0.48], [9.72, 0.58], [9.74, 0.5], [9.76, 0.55], [9.78, 0.62],
  [9.8, 0.53], [9.82, 0.6], [9.85, 0.56], [9.88, 0.65], [9.9, 0.6], [9.93, 0.68], [9.96, 0.63], [10.0, 0.72], [10.05, 0.78], [10.1, 0.85],
  [10.15, 0.9], [10.2, 1.05], [10.25, 1.0], [10.3, 1.12], [10.35, 1.2], [10.4, 1.08], [10.45, 1.25], [10.5, 1.15], [10.55, 1.3], [10.6, 1.22],
  [10.65, 1.45], [10.5, 0.95],
];
const g3InBlue: P[] = [
  [9.2, 0.25], [9.3, 0.38], [9.4, 0.42], [9.5, 0.48], [9.55, 0.52], [9.6, 0.45], [9.65, 0.58], [9.7, 0.62], [9.75, 0.55], [9.8, 0.7],
  [9.85, 0.66], [9.9, 0.74], [9.95, 0.7], [10.0, 0.78], [10.05, 0.82], [10.1, 0.88], [10.15, 0.95], [10.2, 0.92], [10.25, 1.02], [10.3, 1.08],
  [10.35, 1.0], [10.4, 1.15], [10.45, 1.12], [10.5, 1.2], [10.55, 1.28], [10.6, 1.18], [10.65, 1.35], [10.7, 1.3], [10.75, 1.4], [10.8, 1.45],
  [10.85, 1.38], [10.9, 1.45], [10.4, 1.4], [10.3, 1.3],
];
const g3OutBlue: P[] = [
  [9.0, 0.28], [9.01, 0.33], [9.02, 0.25], [9.03, 0.3], [9.04, 0.36], [9.05, 0.27], [9.06, 0.32], [9.07, 0.29], [9.08, 0.35], [9.09, 0.24],
  [9.1, 0.31], [9.11, 0.38], [9.12, 0.28], [9.13, 0.34], [9.14, 0.3], [9.15, 0.4], [9.16, 0.33], [9.17, 0.27], [9.18, 0.36], [9.19, 0.31],
  [9.2, 0.42], [9.21, 0.35], [9.22, 0.3], [9.23, 0.38], [9.24, 0.45], [9.25, 0.33], [9.26, 0.4], [9.27, 0.36], [9.28, 0.48], [9.29, 0.38],
  [9.3, 0.43], [9.31, 0.35], [9.32, 0.5], [9.33, 0.41], [9.34, 0.46], [9.35, 0.38], [9.36, 0.52], [9.37, 0.44], [9.38, 0.48], [9.39, 0.4],
  [9.4, 0.55], [9.41, 0.46], [9.42, 0.5], [9.43, 0.42], [9.44, 0.58], [9.45, 0.48], [9.46, 0.53], [9.47, 0.45], [9.48, 0.6], [9.49, 0.5],
  [9.5, 0.55], [9.52, 0.62], [9.53, 0.52], [9.54, 0.58], [9.55, 0.5], [9.56, 0.65], [9.58, 0.56], [9.6, 0.62], [9.62, 0.55], [9.64, 0.68],
  [9.65, 0.6], [9.67, 0.64], [9.69, 0.58], [9.7, 0.72], [9.72, 0.65], [9.74, 0.7], [9.76, 0.62], [9.78, 0.75], [9.8, 0.68], [9.82, 0.72],
  [9.84, 0.66], [9.86, 0.78], [9.88, 0.72], [9.9, 0.76], [9.92, 0.7], [9.94, 0.82], [9.96, 0.75], [9.98, 0.8], [10.0, 0.85], [10.03, 0.78],
  [10.06, 0.9], [10.1, 0.95], [10.14, 0.88], [10.18, 1.0], [10.22, 0.93], [10.26, 1.02], [10.3, 0.98], [10.35, 1.08], [10.4, 0.95], [10.45, 1.12],
  [10.5, 1.05], [10.55, 1.15], [10.6, 1.1], [10.65, 1.2], [10.7, 1.25], [10.75, 1.18], [10.77, 1.34], [10.3, 0.82], [10.5, 0.9],
];

// ---------------- styles ----------------
const OLIVE = '#808000';
const ORANGE = '#FFA500';
const BLACK = '#000000';
const PURPLE = '#800080';
const BLUE = '#0000FF';
const RED = '#FF0000';
const FONT = '"DejaVu Sans", sans-serif';
const DASH = [13, 6];

interface LineSpec { data: P[]; color: string; dashed: boolean; width: number }
interface DotSpec { data: P[]; color: string }
interface ErrSpec { data: E[]; color: string }
interface LegendItem { label: string; color: string; kind: 'line' | 'err' }
interface PanelSpec { lines: LineSpec[]; dots: DotSpec[]; errs: ErrSpec[]; label: string; legend: LegendItem[] | null }

const L = (data: P[], color: string, dashed: boolean, width = 3): LineSpec => ({ data, color, dashed, width });
const obsLinesIn = (): LineSpec[] => [L(obsInMed, OLIVE, false), L(obsInHi, OLIVE, true), L(obsInLo, OLIVE, true)];
const obsLinesOut = (): LineSpec[] => [L(obsOutMed, OLIVE, false), L(obsOutHi, OLIVE, true), L(obsOutLo, OLIVE, true)];

const panels: PanelSpec[][] = [
  [
    { lines: obsLinesIn(), dots: [], errs: [{ data: obsStarFormingIn, color: BLUE }, { data: obsQuenchedIn, color: RED }], label: panelLabels[0], legend: null },
    {
      lines: obsLinesOut(), dots: [], errs: [{ data: obsQuenchedOut, color: RED }, { data: obsStarFormingOut, color: BLUE }], label: panelLabels[0],
      legend: [{ label: 'Observation', color: OLIVE, kind: 'line' }, { label: 'Star-forming', color: BLUE, kind: 'err' }, { label: 'Quenched', color: RED, kind: 'err' }],
    },
  ],
  [
    {
      lines: [L(gzsbInMed, ORANGE, false), L(gzsbInHi, ORANGE, true), L(gzsbInLo, ORANGE, true), L(gzsbInTailHi, ORANGE, true), L(gzsbInTailMed, ORANGE, true), L(gzsbInTailLo, ORANGE, true), ...obsLinesIn()],
      dots: [{ data: gzsbInBlue, color: BLUE }, { data: gzsbInRed, color: RED }], errs: [], label: panelLabels[1], legend: null,
    },
    {
      lines: [L(gzsbOutMed, ORANGE, false), L(gzsbOutHi, ORANGE, true), L(gzsbOutLo, ORANGE, true), ...obsLinesOut()],
      dots: [{ data: gzsbOutRed, color: RED }, { data: gzsbOutBlue, color: BLUE }], errs: [], label: panelLabels[1],
      legend: [{ label: 'Observation', color: OLIVE, kind: 'line' }, { label: 'GZ-SB-CM', color: ORANGE, kind: 'line' }],
    },
  ],
  [
    {
      lines: [L(rsInMed, PURPLE, false, 2.6), L(rsInHi, PURPLE, true), L(rsInLo, PURPLE, true), L(rsInTailHi, PURPLE, true), L(rsInTailMed, PURPLE, true), L(rsInTailLo, PURPLE, true),
        L(rwInMed, BLACK, false, 2.2), L(rwInHi, BLACK, true, 2.6), L(rwInLo, BLACK, true, 2.6), ...obsLinesIn()],
      dots: [{ data: rwInBlue, color: BLUE }, { data: rwInRed, color: RED }], errs: [], label: panelLabels[2], legend: null,
    },
    {
      lines: [L(rsOutMed, PURPLE, false, 2.6), L(rsOutHi, PURPLE, true), L(rsOutLo, PURPLE, true),
        L(rwOutMed, BLACK, false, 2.2), L(rwOutHi, BLACK, true, 2.6), L(rwOutLo, BLACK, true, 2.6), ...obsLinesOut()],
      dots: [{ data: rwOutRed, color: RED }, { data: rwOutBlue, color: BLUE }], errs: [], label: panelLabels[2],
      legend: [{ label: 'Observation', color: OLIVE, kind: 'line' }, { label: 'GZ-SBrw-CM', color: BLACK, kind: 'line' }, { label: 'GZ-SBrs-CM', color: PURPLE, kind: 'line' }],
    },
  ],
  [
    {
      lines: [L(g3InMed, BLUE, false), L(g3InHi, BLUE, true), L(g3InLo, BLUE, true), L(g3InTailHi, BLUE, true), L(g3InTailMed, BLUE, true), L(g3InTailLo, BLUE, true), ...obsLinesIn()],
      dots: [{ data: g3InBlue, color: BLUE }, { data: g3InRed, color: RED }], errs: [], label: panelLabels[3], legend: null,
    },
    {
      lines: [L(g3OutMed, BLUE, false), L(g3OutHi, BLUE, true), L(g3OutLo, BLUE, true), L(g3OutTailHi, BLUE, true), L(g3OutTailMed, BLUE, true), L(g3OutTailLo, BLUE, true), ...obsLinesOut()],
      dots: [{ data: g3OutBlue, color: BLUE }], errs: [], label: panelLabels[3],
      legend: [{ label: 'Observation', color: OLIVE, kind: 'line' }, { label: 'G3-H-CM', color: BLUE, kind: 'line' }],
    },
  ],
];

// ---------------- layout (pixels) ----------------
const colLeft = [53, 344];
const colWidth = [291, 292];
const rowTop = [27, 317, 608, 899];
const rowHeight = [290, 291, 291, 290];

const toXY = (arr: P[]) => arr.map(([x, y]) => ({ x, y }));

function drawErrSymbol(ctx: CanvasRenderingContext2D, cx: number, cy: number, color: string, half: number, cap: number, r: number) {
  ctx.strokeStyle = color;
  ctx.fillStyle = color;
  ctx.lineWidth = 1.3;
  ctx.beginPath();
  ctx.moveTo(cx, cy - half); ctx.lineTo(cx, cy + half);
  ctx.moveTo(cx - cap, cy - half); ctx.lineTo(cx + cap, cy - half);
  ctx.moveTo(cx - cap, cy + half); ctx.lineTo(cx + cap, cy + half);
  ctx.stroke();
  ctx.beginPath();
  ctx.arc(cx, cy, r, 0, Math.PI * 2);
  ctx.fill();
}

function Panel({ spec, r, c }: { spec: PanelSpec; r: number; c: number }) {
  const ref = useRef<HTMLCanvasElement | null>(null);
  const padL = c === 0 ? 53 : 10;
  const padR = 12;
  const padT = 8;
  const padB = r === 3 ? 32 : 12;
  const w = colWidth[c] + padL + padR;
  const h = rowHeight[r] + padT + padB;
  const left = colLeft[c] - padL;
  const top = rowTop[r] - padT;

  useEffect(() => {
    const canvas = ref.current;
    if (!canvas) return;
    const datasets: any[] = [];
    spec.lines.forEach((l) => {
      datasets.push({
        type: 'line', data: toXY(l.data), borderColor: l.color, backgroundColor: l.color, borderWidth: l.width,
        borderDash: l.dashed ? DASH : [], pointRadius: 0, fill: false, tension: 0, borderCapStyle: 'butt',
      });
    });
    spec.errs.slice().reverse().forEach((e) => {
      datasets.push({
        type: 'scatter', data: e.data.map(([x, y]) => ({ x, y })), pointRadius: 1.8, pointBorderWidth: 0,
        pointBackgroundColor: e.color, backgroundColor: e.color, borderColor: e.color,
      });
    });
    spec.dots.forEach((d) => {
      datasets.push({
        type: 'scatter', data: toXY(d.data), pointRadius: 1.3, pointBorderWidth: 0,
        pointBackgroundColor: d.color, backgroundColor: d.color, borderColor: d.color,
      });
    });

    const decor = {
      id: 'decor',
      beforeDatasetsDraw(chart: any) {
        const { ctx, chartArea: a, scales } = chart;
        const xs = scales.x;
        const ys = scales.y;
        ctx.save();
        ctx.beginPath();
        ctx.rect(a.left, a.top, a.right - a.left, a.bottom - a.top);
        ctx.clip();
        ctx.strokeStyle = '#a8a8a8';
        ctx.lineWidth = 1;
        ctx.setLineDash([2, 2]);
        xGridValues.forEach((v) => {
          const px = Math.round(xs.getPixelForValue(v)) + 0.5;
          ctx.beginPath(); ctx.moveTo(px, a.top); ctx.lineTo(px, a.bottom); ctx.stroke();
        });
        yGridValues.forEach((v) => {
          const py = Math.round(ys.getPixelForValue(v)) + 0.5;
          ctx.beginPath(); ctx.moveTo(a.left, py); ctx.lineTo(a.right, py); ctx.stroke();
        });
        ctx.setLineDash([]);
        spec.errs.forEach((e) => {
          e.data.forEach(([x, , lo, hi]) => {
            const px = xs.getPixelForValue(x);
            const p1 = ys.getPixelForValue(lo);
            const p2 = ys.getPixelForValue(hi);
            ctx.strokeStyle = e.color;
            ctx.globalAlpha = 0.5;
            ctx.lineWidth = 1.2;
            ctx.beginPath(); ctx.moveTo(px, p1); ctx.lineTo(px, p2); ctx.stroke();
            ctx.globalAlpha = 0.9;
            ctx.lineWidth = 1.4;
            ctx.beginPath();
            ctx.moveTo(px - 4, p1); ctx.lineTo(px + 4, p1);
            ctx.moveTo(px - 4, p2); ctx.lineTo(px + 4, p2);
            ctx.stroke();
          });
        });
        ctx.globalAlpha = 1;
        ctx.restore();
      },
      afterDatasetsDraw(chart: any) {
        const { ctx, chartArea: a, scales } = chart;
        const xs = scales.x;
        const ys = scales.y;
        ctx.save();
        ctx.strokeStyle = '#000';
        const tick = (vals: number[], len: number, lw: number) => {
          ctx.lineWidth = lw;
          ctx.beginPath();
          vals.forEach((v) => {
            const px = xs.getPixelForValue(v);
            ctx.moveTo(px, a.bottom); ctx.lineTo(px, a.bottom - len);
            ctx.moveTo(px, a.top); ctx.lineTo(px, a.top + len);
          });
          ctx.stroke();
        };
        const ytick = (vals: number[], len: number, lw: number) => {
          ctx.lineWidth = lw;
          ctx.beginPath();
          vals.forEach((v) => {
            const py = ys.getPixelForValue(v);
            ctx.moveTo(a.left, py); ctx.lineTo(a.left + len, py);
            ctx.moveTo(a.right, py); ctx.lineTo(a.right - len, py);
          });
          ctx.stroke();
        };
        tick(xMinorTicks, 4, 1.2);
        tick(xMajorTicks, 8, 2);
        ytick(yMinorTicks, 4, 1.2);
        ytick(yMajorTicks, 8, 2);
        ctx.lineWidth = 2.6;
        ctx.strokeRect(a.left, a.top, a.right - a.left, a.bottom - a.top);

        ctx.fillStyle = '#000';
        ctx.font = `20px ${FONT}`;
        ctx.textAlign = 'right';
        ctx.textBaseline = 'alphabetic';
        ctx.fillText(spec.label, a.right - 12, a.top + 27);

        if (spec.legend) {
          ctx.textAlign = 'left';
          ctx.font = `16px ${FONT}`;
          spec.legend.forEach((item, i) => {
            const cy = a.top + 13 + i * 24;
            if (item.kind === 'line') {
              ctx.strokeStyle = item.color;
              ctx.lineWidth = 3;
              ctx.beginPath(); ctx.moveTo(a.left + 5, cy); ctx.lineTo(a.left + 33, cy); ctx.stroke();
            } else {
              drawErrSymbol(ctx, a.left + 19, cy, item.color, 6.5, 4, 3);
            }
            ctx.fillStyle = '#000';
            ctx.fillText(item.label, a.left + 37, cy + 4);
          });
        }
        ctx.restore();
      },
      afterDraw(chart: any) {
        if (c !== 0) return;
        const { ctx, chartArea: a } = chart;
        const pieces = [
          { t: 'Z', f: `italic 20px ${FONT}`, dy: 0 },
          { t: '\u2217', f: `14px ${FONT}`, dy: 4 },
          { t: ' / ', f: `20px ${FONT}`, dy: 0 },
          { t: 'Z', f: `italic 20px ${FONT}`, dy: 0 },
          { t: '\u2299', f: `13px ${FONT}`, dy: 4 },
        ];
        ctx.save();
        ctx.translate(28, (a.top + a.bottom) / 2);
        ctx.rotate(-Math.PI / 2);
        ctx.fillStyle = '#000';
        ctx.textAlign = 'left';
        ctx.textBaseline = 'alphabetic';
        let total = 0;
        pieces.forEach((p) => { ctx.font = p.f; total += ctx.measureText(p.t).width; });
        let x = -total / 2;
        pieces.forEach((p) => { ctx.font = p.f; ctx.fillText(p.t, x, p.dy); x += ctx.measureText(p.t).width; });
        ctx.restore();
      },
    };

    const xLabels = c === 0 ? xTickLabelsLeft : xTickLabelsRight;
    const chart = new Chart(canvas, {
      type: 'scatter',
      data: { datasets },
      options: {
        animation: false,
        responsive: false,
        maintainAspectRatio: false,
        devicePixelRatio: 1,
        events: [],
        layout: { padding: { left: c === 0 ? 0 : padL, right: padR, top: padT, bottom: r === 3 ? 0 : padB } },
        plugins: { legend: { display: false }, tooltip: { enabled: false } },
        scales: {
          x: {
            type: 'linear', min: X_MIN, max: X_MAX, display: r === 3,
            grid: { display: false, drawTicks: false }, border: { display: false },
            afterBuildTicks: (s: any) => { s.ticks = xMajorTicks.map((v) => ({ value: v })); },
            ticks: {
              autoSkip: false, maxRotation: 0, padding: 5, color: '#000',
              font: { family: 'DejaVu Sans', size: 18, weight: 'bold' },
              callback: (v: any) => { const i = xMajorTicks.indexOf(Number(v)); return i >= 0 ? xLabels[i] : ''; },
            },
            afterFit: (s: any) => { s.height = padB; s.paddingLeft = 0; s.paddingRight = 0; s.paddingTop = 0; s.paddingBottom = 0; },
          },
          y: {
            type: 'linear', min: Y_MIN, max: Y_MAX, display: c === 0,
            grid: { display: false, drawTicks: false }, border: { display: false },
            afterBuildTicks: (s: any) => { s.ticks = yMajorTicks.map((v) => ({ value: v })); },
            ticks: {
              autoSkip: false, padding: 8, color: '#000',
              font: { family: 'DejaVu Sans', size: 18, weight: 'bold' },
              callback: (v: any) => { const i = yMajorTicks.indexOf(Number(v)); return i >= 0 ? yTickLabels[i] : ''; },
            },
            afterFit: (s: any) => { s.width = padL; s.paddingLeft = 0; s.paddingRight = 0; s.paddingTop = 0; s.paddingBottom = 0; },
          },
        },
      } as any,
      plugins: [decor],
    } as any);
    return () => chart.destroy();
  }, []);

  return (
    <canvas
      ref={ref}
      width={w}
      height={h}
      style={{ position: 'absolute', left, top, width: w, height: h }}
    />
  );
}

const textStyle: React.CSSProperties = {
  position: 'absolute',
  fontFamily: FONT,
  fontSize: 20,
  lineHeight: '24px',
  color: '#000',
  textAlign: 'center',
  whiteSpace: 'nowrap',
};
const subStyle: React.CSSProperties = { fontSize: 14, position: 'relative', top: 5, lineHeight: '1' };
const supStyle: React.CSSProperties = { fontSize: 14, position: 'relative', top: -8, lineHeight: '1' };

function XLabel({ left, width }: { left: number; width: number }) {
  return (
    <div style={{ ...textStyle, left, width, top: 1219 }}>
      log(<i>M</i><span style={subStyle}>∗</span> / <i>h</i><span style={supStyle}>−2</span>M<span style={subStyle}>⊙</span>)
    </div>
  );
}

export default function App() {
  return (
    <div style={{ position: 'absolute', left: 0, top: 0, width: 648, height: 1249, background: '#fff', overflow: 'hidden' }}>
      <div style={{ ...textStyle, left: 53, width: 291, top: 2 }}>
        <i>R</i> / <i>R</i><span style={subStyle}>200c</span> &lt; 3
      </div>
      <div style={{ ...textStyle, left: 344, width: 292, top: 2 }}>
        3 &nbsp;≤&nbsp; <i>R</i> / <i>R</i><span style={subStyle}>200c</span> &nbsp;&lt;&nbsp; 7
      </div>
      {panels.map((row, r) => row.map((spec, c) => <Panel key={`${r}-${c}`} spec={spec} r={r} c={c} />))}
      <XLabel left={53} width={291} />
      <XLabel left={344} width={292} />
    </div>
  );
}
